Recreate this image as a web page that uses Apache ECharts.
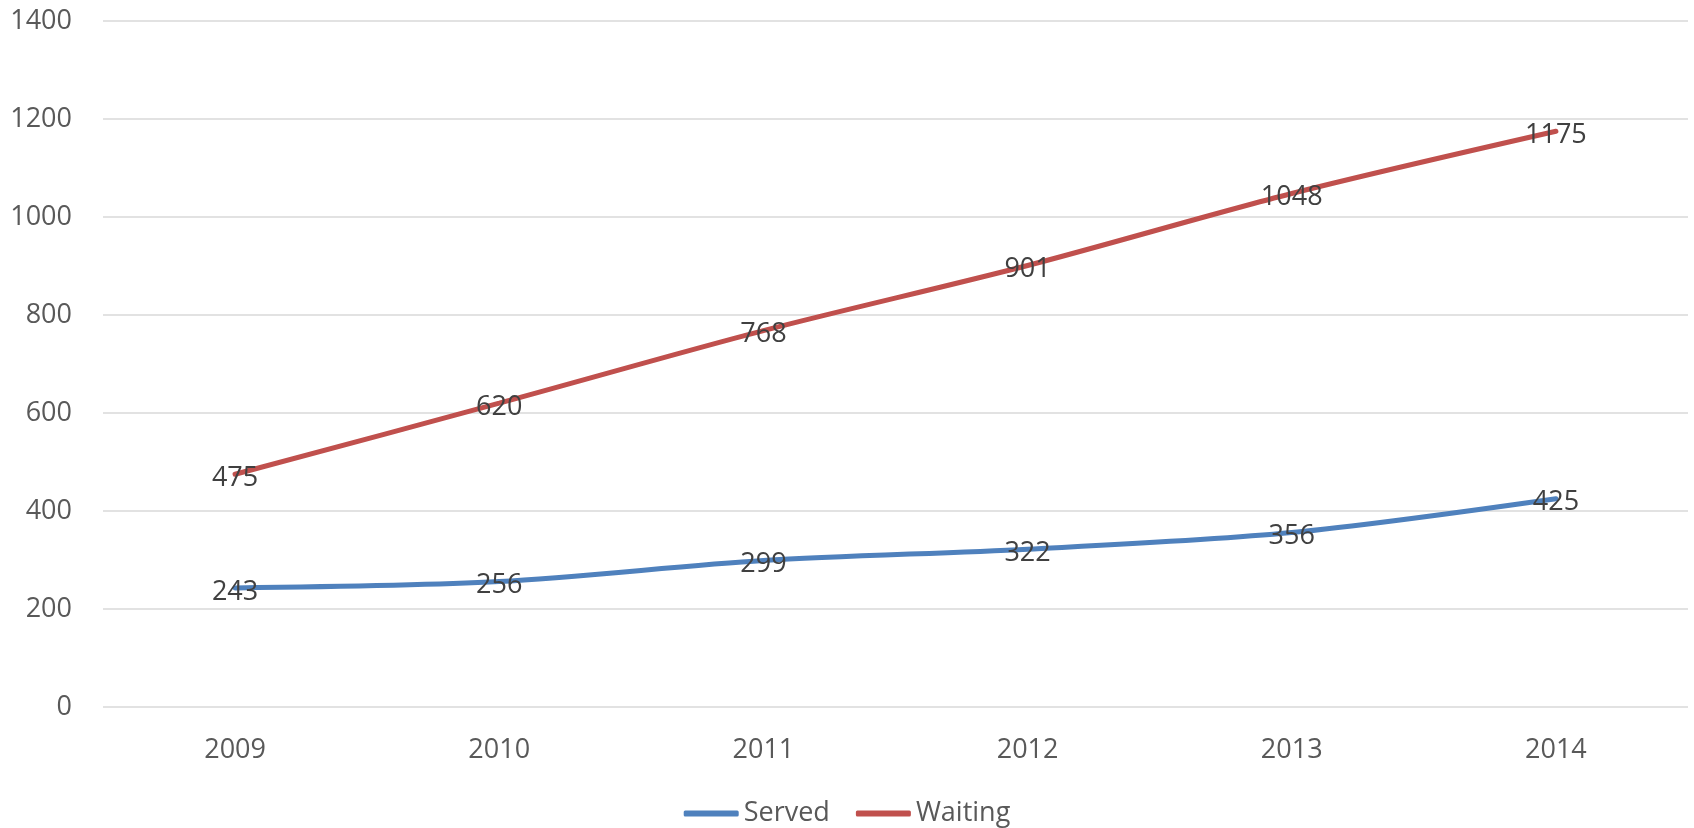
<!DOCTYPE html>
<html><head><meta charset="utf-8">
<script src="https://cdn.jsdelivr.net/npm/echarts@6/dist/echarts.min.js"></script>
<style>html,body{margin:0;padding:0;background:#fff}#c{width:1694px;height:828px}</style>
</head><body><div id="c"></div>
<script>
const years = ['2009','2010','2011','2012','2013','2014'];
const served = [243,256,299,322,356,425];
const waiting = [475,620,768,901,1048,1175];
const FONT = '"Open Sans", sans-serif';
const chart = echarts.init(document.getElementById('c'));
function lineSeries(name, data, color){
  return {
    name, type:'line', data, smooth:0.3,
    symbol:'circle', symbolSize:0, showSymbol:true,
    lineStyle:{color, width:5, cap:'round'},
    itemStyle:{color},
    label:{show:true, position:'inside', offset:[0,4], color:'#404040', fontSize:27, fontFamily:FONT},
    emphasis:{disabled:true}, animation:false
  };
}
chart.setOption({
  animation:false,
  grid:{left:103, right:6, top:21, bottom:121, containLabel:false},
  legend:{
    bottom:-4, left:'center', itemGap:26, itemWidth:55, itemHeight:6,
    icon:'roundRect',
    textStyle:{color:'#595959', fontSize:27, fontFamily:FONT, padding:[0,0,0,0]},
    data:['Served','Waiting']
  },
  xAxis:{
    type:'category', data:years, boundaryGap:true,
    axisLine:{show:false}, axisTick:{show:false},
    axisLabel:{color:'#595959', fontSize:27, fontFamily:FONT, margin:30}
  },
  yAxis:{
    type:'value', min:0, max:1400, interval:200,
    axisLine:{show:false}, axisTick:{show:false},
    splitLine:{lineStyle:{color:'#d9d9d9', width:1.5}},
    axisLabel:{color:'#595959', fontSize:27, fontFamily:FONT, margin:31, formatter:v => String(v)}
  },
  series:[lineSeries('Served', served, '#4F81BD'), lineSeries('Waiting', waiting, '#C0504D')]
});
</script></body></html>
